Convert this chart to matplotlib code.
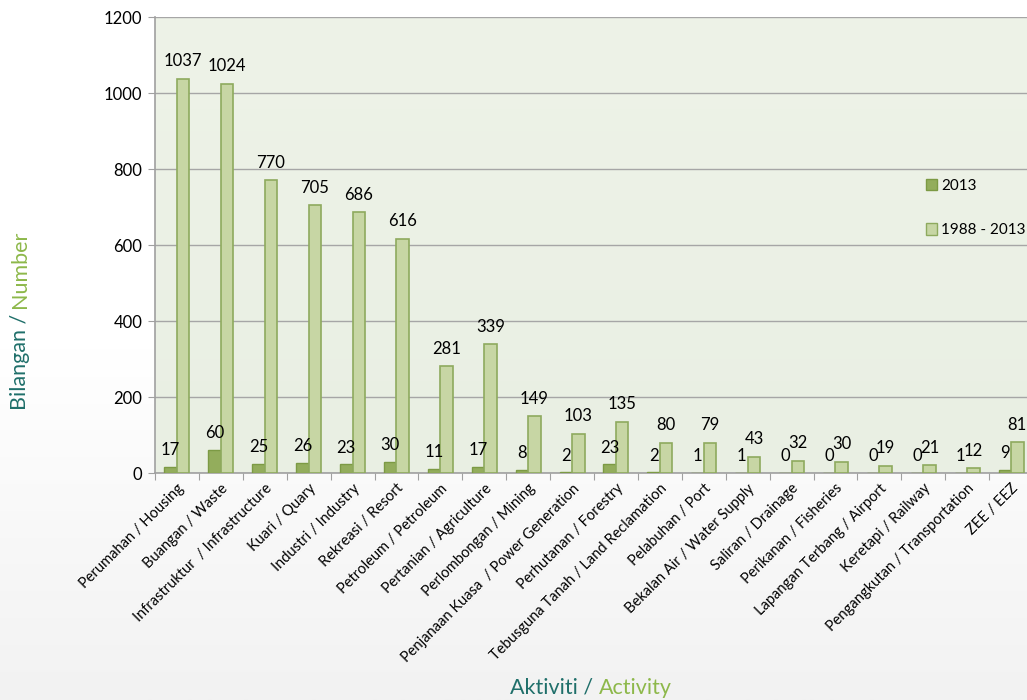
import numpy as np
import matplotlib.pyplot as plt
from matplotlib.colors import LinearSegmentedColormap
from matplotlib.patches import Patch

plt.rcParams['font.family'] = ['Lato', 'DejaVu Sans']

kategori = [
    'Perumahan / Housing', 'Buangan / Waste', 'Infrastruktur  / Infrastructure',
    'Kuari / Quary', 'Industri / Industry', 'Rekreasi / Resort',
    'Petroleum / Petroleum', 'Pertanian / Agriculture', 'Perlombongan / Mining',
    'Penjanaan Kuasa  / Power Generation', 'Perhutanan / Forestry',
    'Tebusguna Tanah / Land Reclamation', 'Pelabuhan / Port',
    'Bekalan Air / Water Supply', 'Saliran / Drainage', 'Perikanan / Fisheries',
    'Lapangan Terbang / Airport', 'Keretapi / Railway',
    'Pengangkutan / Transportation', 'ZEE / EEZ',
]
tahun_2013 = [17, 60, 25, 26, 23, 30, 11, 17, 8, 2, 23, 2, 1, 1, 0, 0, 0, 0, 1, 9]
tahun_1988_2013 = [1037, 1024, 770, 705, 686, 616, 281, 339, 149, 103, 135, 80, 79, 43, 32, 30, 19, 21, 12, 81]

teal = '#1f6f6a'
hijau = '#8db84a'
gelap = '#93ad5c'
gelap_tepi = '#7c9a44'
cerah = '#c7d6a4'
cerah_tepi = '#8eaa5e'

W, H = 1027, 700
fig = plt.figure(figsize=(W / 100, H / 100), dpi=100)

# latar belakang gradien untuk seluruh rajah
bg = fig.add_axes([0, 0, 1, 1], zorder=-10)
grad = np.linspace(0, 1, 256).reshape(-1, 1)
bg.imshow(grad, cmap=LinearSegmentedColormap.from_list('bg', ['#ffffff', '#ffffff', '#f2f2f2']),
          aspect='auto', extent=[0, 1, 0, 1], origin='upper')
bg.axis('off')

n = len(kategori)
lebar_kat = 43.9
ax = fig.add_axes([155 / W, 1 - 473 / H, n * lebar_kat / W, (473 - 17) / H])
ax.set_facecolor('none')
ax.imshow(grad, cmap=LinearSegmentedColormap.from_list('pl', ['#eef3e8', '#e9efe3']),
          aspect='auto', extent=[-0.5, n - 0.5, 0, 1200], origin='upper', zorder=0)

x = np.arange(n)
w = 0.285
ax.bar(x - w / 2, tahun_2013, w, color=gelap, edgecolor=gelap_tepi, linewidth=1, zorder=3)
ax.bar(x + w / 2, tahun_1988_2013, w, color=cerah, edgecolor=cerah_tepi, linewidth=1.2, zorder=3)

for i in range(n):
    ax.text(x[i] - w / 2, tahun_2013[i] + 44, str(tahun_2013[i]), ha='center', va='center',
            fontsize=12, color='black', zorder=4)
    ax.text(x[i] + w / 2, tahun_1988_2013[i] + 46, str(tahun_1988_2013[i]), ha='center', va='center',
            fontsize=12, color='black', zorder=4)

ax.set_xlim(-0.5, n - 0.5)
ax.set_ylim(0, 1200)
ax.set_yticks(np.arange(0, 1201, 200))
ax.tick_params(axis='y', labelsize=12, length=5, color='#a0a0a0', pad=4)
ax.yaxis.grid(True, color='#a6a6a6', linewidth=1, zorder=1)
ax.set_axisbelow(True)

ax.set_xticks(np.arange(n + 1) - 0.5)
ax.set_xticklabels([])
ax.tick_params(axis='x', which='major', length=5, color='#a0a0a0')
ax.set_xticks(x, minor=True)
ax.set_xticklabels(kategori, minor=True, rotation=45, ha='right', rotation_mode='anchor', fontsize=10.5)
ax.tick_params(axis='x', which='minor', length=0, pad=6)

for s in ['top', 'right']:
    ax.spines[s].set_visible(False)
ax.spines['left'].set_color('#a0a0a0')
ax.spines['bottom'].set_color('#a0a0a0')
ax.spines['left'].set_linewidth(1.2)
ax.spines['bottom'].set_linewidth(1.2)

handles = [Patch(facecolor=gelap, edgecolor=gelap_tepi), Patch(facecolor=cerah, edgecolor=cerah_tepi)]
fig.legend(handles, ['2013', '1988 - 2013'], loc='upper left',
           bbox_to_anchor=(912 / W, 1 - 165 / H), frameon=False, fontsize=11,
           handlelength=0.75, handleheight=0.75, labelspacing=2.0, handletextpad=0.25)

# label paksi dengan dua warna
tY = fig.text(20 / W, 1 - 410 / H, 'Bilangan / ', rotation=90, color=teal, fontsize=15.5,
              ha='center', va='bottom')
fig.canvas.draw()
bb = tY.get_window_extent()
fig.text(20 / W, bb.y1 / H, 'Number', rotation=90, color=hijau, fontsize=15.5,
         ha='center', va='bottom')

tX = fig.text(510 / W, 1 - 688 / H, 'Aktiviti / ', color=teal, fontsize=15.5, ha='left', va='center')
fig.canvas.draw()
bb = tX.get_window_extent()
fig.text(bb.x1 / W, 1 - 688 / H, 'Activity', color=hijau, fontsize=15.5, ha='left', va='center')

fig.savefig('out.png', dpi=100)
